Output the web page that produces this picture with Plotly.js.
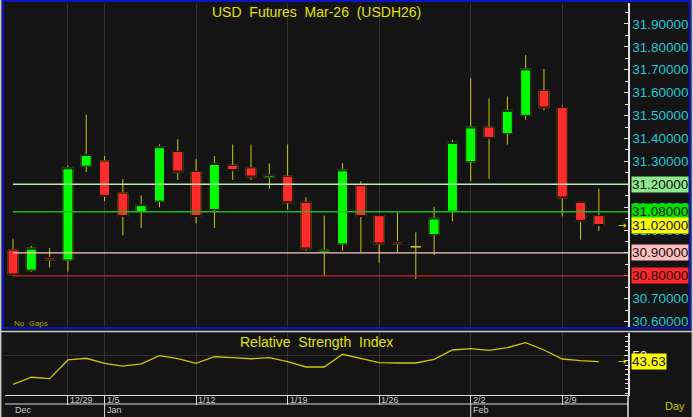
<!DOCTYPE html>
<html><head><meta charset="utf-8">
<script src="https://cdn.plot.ly/plotly-3.0.1.min.js"></script>
<style>html,body{margin:0;padding:0;background:#141414;overflow:hidden}#chart{width:693px;height:417px}</style>
</head><body><div id="chart"></div>
<script>
// ---------- data ----------
const dates = ['12/24','12/25','12/26','12/29','12/30',
  '1/5','1/6','1/7','1/8','1/9',
  '1/12','1/13','1/14','1/15','1/16',
  '1/19','1/20','1/21','1/22','1/23',
  '1/26','1/27','1/28','1/29','1/30',
  '2/2','2/3','2/4','2/5','2/6',
  '2/9','2/10','2/11'];
const open  = [30.913,30.825,30.880,30.869,31.279,31.302,31.162,31.080,31.126,31.343,31.256,31.090,31.283,31.272,31.231,31.235,31.121,30.902,30.939,31.194,31.063,30.950,30.927,30.980,31.082,31.298,31.450,31.421,31.501,31.610,31.535,31.121,31.063];
const high  = [30.962,30.931,30.921,31.282,31.504,31.323,31.224,31.151,31.374,31.396,31.311,31.323,31.374,31.374,31.291,31.374,31.143,31.063,31.292,31.213,31.065,31.077,30.990,31.102,31.394,31.663,31.575,31.583,31.764,31.704,31.543,31.121,31.180];
const low   = [30.800,30.818,30.836,30.818,31.253,31.126,30.977,31.009,31.099,31.219,31.029,31.009,31.219,31.219,31.180,31.089,30.910,30.800,30.910,30.902,30.858,30.902,30.786,30.891,31.038,31.213,31.224,31.373,31.482,31.523,31.060,30.958,30.997];
const close = [30.804,30.921,30.869,31.272,31.330,31.147,31.059,31.111,31.364,31.253,31.059,31.291,31.260,31.231,31.242,31.119,30.917,30.913,31.263,31.059,30.939,30.939,30.927,31.053,31.383,31.450,31.400,31.523,31.704,31.533,31.140,31.038,31.020];
const rsi   = [19.7,27.1,25.6,45.3,47.1,41.8,38.9,41.1,49.8,46.6,41.8,48.7,47.7,46.6,47.7,43.5,37.9,37.9,51.3,47.1,42.4,42.1,42.1,46.0,55.8,57.2,55.5,58.2,63.5,55.8,46.3,44.5,43.63];
const weekTicks = ['12/29','1/5','1/12','1/19','1/26','2/2','2/9'];
const monthStarts = ['12/24','1/5','2/2'];
const monthLabels = ['Dec','Jan','Feb'];
const levelValues = [31.20, 31.08, 30.90, 30.80];
const rsiLabelTicks = [50];

// ---------- styles ----------
const levelLineColors = ['#c4e4bc','#22b422','#ffc4c4','#c42222'];
const levelBoxColors  = ['#8ee88e','#00e400','#ffbcbc','#ff2626'];
const WICK = '#c8c810';
const FONT = 'Liberation Sans, Arial, sans-serif';
const W = 693, H = 417, L = 5, R = 65, T = 3, B = 22;
const plotW = W - L - R, plotH = H - T - B;
const px = x => (x - L) / plotW;
const py = y => (H - B - y) / plotH;
const xRange = [-0.437, 33.59];
const yRange = [30.5723, 31.9915];
const rsiRange = [8.4, 73.7];

const idx = d => dates.indexOf(d);
const n = dates.length;
const bodyOpen = [], bodyClose = [], bodyHigh = [], bodyLow = [];
for (let i = 0; i < n; i++) {
  if (open[i] === close[i]) { bodyOpen.push(null); bodyClose.push(null); bodyHigh.push(null); bodyLow.push(null); }
  else { bodyOpen.push(open[i]); bodyClose.push(close[i]); bodyHigh.push(Math.max(open[i], close[i])); bodyLow.push(Math.min(open[i], close[i])); }
}

const traces = [
  { type:'candlestick', x:dates, open:open, high:high, low:low, close:close, xaxis:'x', yaxis:'y',
    whiskerwidth:0, hoverinfo:'skip',
    increasing:{line:{color:WICK,width:1}, fillcolor:WICK},
    decreasing:{line:{color:WICK,width:1}, fillcolor:WICK} },
  { type:'candlestick', x:dates, open:bodyOpen, high:bodyHigh, low:bodyLow, close:bodyClose, xaxis:'x', yaxis:'y',
    whiskerwidth:0, hoverinfo:'skip',
    increasing:{line:{color:'#0c0c0c',width:1}, fillcolor:'#00ff00'},
    decreasing:{line:{color:'#0c0c0c',width:1}, fillcolor:'#ff2a2a'} },
  { type:'scatter', mode:'lines', x:dates, y:rsi, xaxis:'x', yaxis:'y2',
    line:{color:'#c8c800', width:1.3}, hoverinfo:'skip' }
];

const shapes = [];
levelValues.forEach((v, i) => shapes.push({ type:'line', xref:'x', yref:'y', x0:0, x1:xRange[1], y0:v, y1:v,
  line:{color:levelLineColors[i], width:1.3}, layer:'above' }));
// frames
shapes.push({ type:'line', xref:'paper', yref:'paper', x0:px(0.7), x1:px(0.7), y0:py(0), y1:py(417), line:{color:'#c8c8c8', width:1.5} });
shapes.push({ type:'line', xref:'paper', yref:'paper', x0:px(692.3), x1:px(692.3), y0:py(0), y1:py(417), line:{color:'#c8c8c8', width:1.5} });
shapes.push({ type:'rect', xref:'paper', yref:'paper', x0:px(3), x1:px(690), y0:py(328), y1:py(0.9), line:{color:'#0c14c8', width:2} });
shapes.push({ type:'line', xref:'paper', yref:'paper', x0:px(1), x1:px(693), y0:py(331.5), y1:py(331.5), line:{color:'#c8c8c8', width:1.5} });
shapes.push({ type:'line', xref:'paper', yref:'paper', x0:px(5), x1:px(629), y0:py(404), y1:py(404), line:{color:'#d8d8d8', width:1} });
shapes.push({ type:'line', xref:'paper', yref:'paper', x0:1, x1:1, y0:py(395), y1:py(417), line:{color:'#e0e0e0', width:1.5} });
monthStarts.forEach((d, i) => { if (idx(d) > 0) shapes.push({ type:'line', xref:'x', yref:'paper', x0:idx(d), x1:idx(d), y0:py(404), y1:py(417), line:{color:'#d8d8d8', width:1} }); });

const annotations = [];
const ann = o => annotations.push(Object.assign({showarrow:false, borderpad:0}, o));
ann({ text:'USD\u00a0 Futures\u00a0 Mar-26\u00a0 (USDH26)', xref:'paper', yref:'paper', x:0.5, y:py(12), xanchor:'center', yanchor:'middle', font:{family:FONT, size:14, color:'#e2e200'} });
ann({ text:'Relative\u00a0 Strength\u00a0 Index', xref:'paper', yref:'paper', x:0.5, y:py(341.5), xanchor:'center', yanchor:'middle', font:{family:FONT, size:14, color:'#e2e200'} });
ann({ text:'No\u00a0 Gaps', xref:'paper', yref:'paper', x:px(13), y:py(323), xanchor:'left', yanchor:'middle', font:{family:FONT, size:8, color:'#a8a800'} });
ann({ text:'Day', xref:'paper', yref:'paper', x:px(664), y:py(406), xanchor:'left', yanchor:'middle', font:{family:FONT, size:11, color:'#c8c800'} });
levelValues.forEach((v, i) => ann({ text:v.toFixed(5), xref:'paper', yref:'y', x:px(631), y:v, xanchor:'left', yanchor:'middle', bgcolor:levelBoxColors[i], font:{family:FONT, size:13.5, color:'#101010'} }));
const last = close[n - 1];
ann({ text:last.toFixed(5), xref:'paper', yref:'y', x:px(631), y:last, xanchor:'left', yanchor:'middle', bgcolor:'#ffff00', font:{family:FONT, size:13.5, color:'#101010'} });
ann({ text:'→', xref:'paper', yref:'y', x:px(621.5), y:last, xanchor:'center', yanchor:'middle', font:{family:'DejaVu Sans', size:10, color:'#f0f000'} });
const rLast = rsi[n - 1];
ann({ text:rLast.toFixed(2), xref:'paper', yref:'y2', x:px(631), y:rLast, xanchor:'left', yanchor:'middle', bgcolor:'#ffff00', font:{family:FONT, size:13.5, color:'#101010'} });
ann({ text:'→', xref:'paper', yref:'y2', x:px(621.5), y:rLast, xanchor:'center', yanchor:'middle', font:{family:'DejaVu Sans', size:10, color:'#f0f000'} });
weekTicks.forEach(d => ann({ text:d, xref:'x', yref:'paper', x:idx(d), xshift:1, y:py(400), xanchor:'left', yanchor:'middle', font:{family:FONT, size:9, color:'#c8c8c8'} }));
monthStarts.forEach((d, i) => ann({ text:monthLabels[i], xref:'x', yref:'paper', x:idx(d), xshift:1, y:py(410.5), xanchor:'left', yanchor:'middle', font:{family:FONT, size:9, color:'#c8c8c8'} }));

const layout = {
  width:W, height:H, margin:{l:L, r:R, t:T, b:B, pad:0},
  paper_bgcolor:'#141414', plot_bgcolor:'#141414', showlegend:false, hovermode:false,
  boxgap:0.3, boxgroupgap:0.22,
  font:{family:FONT},
  xaxis:{ type:'category', range:xRange, anchor:'y2', domain:[0,1], rangeslider:{visible:false},
    showline:true, linecolor:'#d8d8d8', linewidth:1, ticks:'outside', ticklen:9, tickwidth:1, tickcolor:'#d8d8d8',
    tickmode:'array', tickvals:weekTicks, showticklabels:false, showgrid:true, gridcolor:'#303030', gridwidth:1, zeroline:false, fixedrange:true },
  yaxis:{ domain:[py(328), 1], range:yRange, side:'right', anchor:'x', showline:true, linecolor:'#e0e0e0', linewidth:1.5,
    ticks:'inside', ticklen:4, tickcolor:'#e0e0e0', tickmode:'linear', tick0:0, dtick:0.1, tickformat:'.5f',
    tickfont:{family:FONT, size:13.5, color:'#1ec8d8'}, showgrid:false, zeroline:false,
    minor:{dtick:0.05, tick0:0, ticks:'inside', ticklen:3, tickcolor:'#e0e0e0', showgrid:false} },
  yaxis3:{ overlaying:'y', side:'left', anchor:'x', range:yRange, showline:true, linecolor:'#c8c8c8', linewidth:1,
    ticks:'inside', ticklen:3, tickcolor:'#c8c8c8', tickmode:'linear', tick0:0, dtick:0.2, showticklabels:false,
    showgrid:true, gridcolor:'#303030', zeroline:false,
    minor:{dtick:0.05, tick0:0, ticks:'inside', ticklen:3, tickcolor:'#c8c8c8', showgrid:false} },
  yaxis2:{ domain:[0, py(333)], range:rsiRange, side:'right', anchor:'x', showline:true, linecolor:'#e0e0e0', linewidth:1.5,
    ticks:'inside', ticklen:4, tickcolor:'#e0e0e0', tickmode:'array', tickvals:rsiLabelTicks,
    tickfont:{family:FONT, size:13.5, color:'#e8e8e8'}, showgrid:true, gridcolor:'#303030', zeroline:false,
    minor:{dtick:5, tick0:0, ticks:'inside', ticklen:3, tickcolor:'#e0e0e0', showgrid:false} },
  yaxis4:{ overlaying:'y2', side:'left', anchor:'x', range:rsiRange, showline:true, linecolor:'#c8c8c8', linewidth:1,
    ticks:'inside', ticklen:3, tickcolor:'#c8c8c8', tickmode:'linear', tick0:0, dtick:5, showticklabels:false,
    showgrid:false, zeroline:false },
  shapes:shapes, annotations:annotations
};

Plotly.newPlot('chart', traces, layout, {staticPlot:true, displayModeBar:false});
</script></body></html>
